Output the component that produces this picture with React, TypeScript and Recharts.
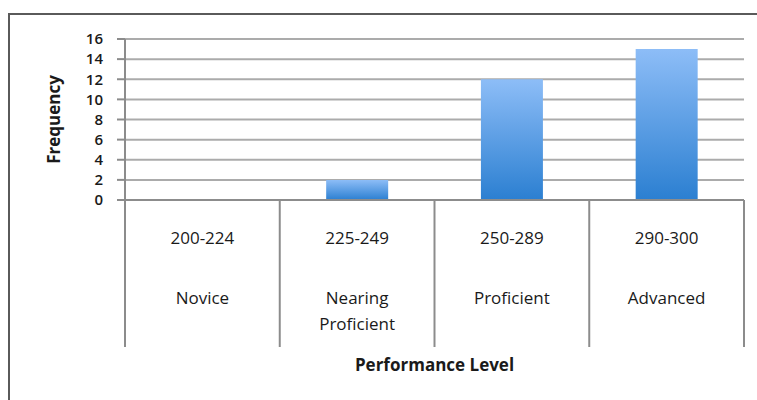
import { BarChart, Bar, XAxis, YAxis, CartesianGrid, Label } from "recharts";

const ranges = ["200-224", "225-249", "250-289", "290-300"];
const levels = [["Novice"], ["Nearing", "Proficient"], ["Proficient"], ["Advanced"]];
const frequency = [0, 2, 12, 15];
const yTicks = [0, 2, 4, 6, 8, 10, 12, 14, 16];

const rows = ranges.map((r, i) => ({ range: r, Frequency: frequency[i] }));

const FONT = "'Open Sans', sans-serif";

function CategoryTick(props: any) {
  const { x, y, payload, index } = props;
  const half = payload.offset ?? 0;
  const top = y - 8; // tick y already includes tickSize + tickMargin
  const lines = levels[index] || [];
  return (
    <g>
      <line x1={x - half} x2={x - half} y1={top} y2={top + 147} stroke="#8c8c8c" strokeWidth={2} />
      {index === ranges.length - 1 && (
        <line x1={x + half} x2={x + half} y1={top} y2={top + 147} stroke="#8c8c8c" strokeWidth={2} />
      )}
      <text x={x} y={top + 37} textAnchor="middle" dominantBaseline="central" fontSize={17} fill="#1a1a1a" fontFamily={FONT}>
        {payload.value}
      </text>
      {lines.map((l: string, k: number) => (
        <text key={k} x={x} y={top + 97 + k * 26} textAnchor="middle" dominantBaseline="central" fontSize={17} fill="#1a1a1a" fontFamily={FONT}>
          {l}
        </text>
      ))}
    </g>
  );
}

export default function App() {
  return (
    <div style={{ position: "absolute", left: 0, top: 0, width: 757, height: 400, background: "#fff" }}>
      <div style={{ position: "absolute", left: 8, top: 13, right: 0, bottom: 0, borderTop: "2px solid #5a5a5a", borderLeft: "2px solid #5a5a5a" }} />
      <BarChart
        width={757}
        height={400}
        data={rows}
        margin={{ top: 39, right: 13, left: 45, bottom: 53 }}
        barCategoryGap="30%"
        style={{ position: "absolute", left: 0, top: 0 }}
      >
        <defs>
          <linearGradient id="barFill" x1="0" y1="0" x2="0" y2="1">
            <stop offset="0%" stopColor="#8dbdf7" />
            <stop offset="100%" stopColor="#2b7fd1" />
          </linearGradient>
        </defs>
        <CartesianGrid vertical={false} stroke="#ababab" strokeWidth={2} />
        <XAxis
          dataKey="range"
          interval={0}
          height={147}
          axisLine={{ stroke: "#8c8c8c", strokeWidth: 2 }}
          tickLine={false}
          tick={<CategoryTick />}
        >
          <Label
            value="Performance Level"
            position="bottom"
            offset={12}
            style={{ fontFamily: FONT, fontSize: 17, fontWeight: 700, fill: "#1a1a1a" }}
          />
        </XAxis>
        <YAxis
          width={80}
          domain={[0, 16]}
          ticks={yTicks}
          interval={0}
          tickSize={8}
          tickMargin={14}
          axisLine={{ stroke: "#8c8c8c", strokeWidth: 2 }}
          tickLine={{ stroke: "#8c8c8c", strokeWidth: 2 }}
          tick={{ fontFamily: FONT, fontSize: 15, fontWeight: 600, fill: "#1a1a1a" }}
        >
          <Label
            content={(p: any) => {
              const vb = p.viewBox;
              const cx = vb.x + 8;
              const cy = vb.y + vb.height / 2;
              return (
                <text
                  x={cx}
                  y={cy}
                  transform={`rotate(-90, ${cx}, ${cy})`}
                  textAnchor="middle"
                  dominantBaseline="central"
                  fontFamily={FONT}
                  fontSize={17}
                  fontWeight={700}
                  fill="#1a1a1a"
                >
                  Frequency
                </text>
              );
            }}
          />
        </YAxis>
        <Bar dataKey="Frequency" fill="url(#barFill)" isAnimationActive={false} />
      </BarChart>
    </div>
  );
}
